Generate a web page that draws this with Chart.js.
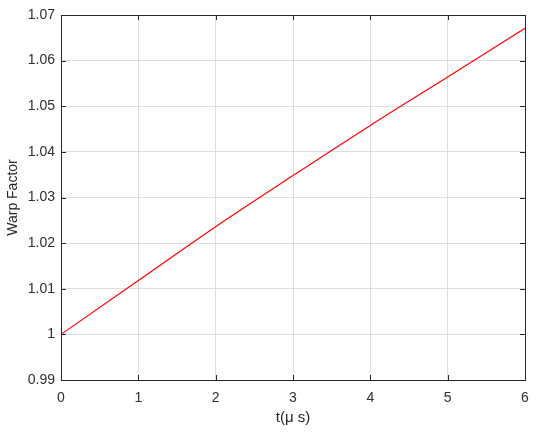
<!DOCTYPE html>
<html>
<head>
<meta charset="utf-8">
<style>
html,body{margin:0;padding:0;background:#fff;}
#wrap{width:550px;height:436px;position:relative;}
</style>
<script src="https://cdn.jsdelivr.net/npm/chart.js@4/dist/chart.umd.min.js"></script>
</head>
<body>
<div id="wrap"><canvas id="c" width="550" height="436"></canvas></div>
<script>
const timeUs = [0, 1, 2, 3, 4, 5, 6];
const warpFactor = [1.0, 1.0118, 1.0236, 1.0348, 1.0458, 1.0564, 1.0671];
const xTicks = [0, 1, 2, 3, 4, 5, 6];
const yTicks = [0.99, 1.0, 1.01, 1.02, 1.03, 1.04, 1.05, 1.06, 1.07];
const xTitle = 't(\u03BC s)';
const yTitle = 'Warp Factor';

const points = timeUs.map((t, i) => ({x: t, y: warpFactor[i]}));

const boxPlugin = {
  id: 'box',
  afterDraw(chart) {
    const {ctx, chartArea: a, scales} = chart;
    ctx.save();
    ctx.strokeStyle = '#262626';
    ctx.lineWidth = 1;
    const tl = 5;
    ctx.beginPath();
    xTicks.forEach(v => {
      const px = Math.round(scales.x.getPixelForValue(v)) + 0.5;
      ctx.moveTo(px, a.bottom); ctx.lineTo(px, a.bottom - tl);
      ctx.moveTo(px, a.top); ctx.lineTo(px, a.top + tl);
    });
    yTicks.forEach(v => {
      const py = Math.round(scales.y.getPixelForValue(v)) + 0.5;
      ctx.moveTo(a.left, py); ctx.lineTo(a.left + tl, py);
      ctx.moveTo(a.right, py); ctx.lineTo(a.right - tl, py);
    });
    ctx.stroke();
    ctx.strokeRect(Math.round(a.left) + 0.5, Math.round(a.top) + 0.5,
                   Math.round(a.right - a.left), Math.round(a.bottom - a.top));
    ctx.restore();
  }
};

new Chart(document.getElementById('c'), {
  type: 'scatter',
  data: {
    datasets: [{
      data: points,
      showLine: true,
      borderColor: '#ff0000',
      borderWidth: 1.2,
      pointRadius: 0,
      cubicInterpolationMode: 'monotone',
      fill: false
    }]
  },
  options: {
    responsive: false,
    animation: false,
    devicePixelRatio: 1,
    layout: {padding: {top: 15, right: 25, left: 0, bottom: 0}},
    plugins: {legend: {display: false}, tooltip: {enabled: false}},
    scales: {
      x: {
        type: 'linear',
        min: 0, max: 6,
        afterBuildTicks: s => { s.ticks = xTicks.map(v => ({value: v})); },
        afterFit: s => { s.height = 56; },
        grid: {color: '#dedede', lineWidth: 1, drawTicks: false},
        border: {display: false},
        ticks: {
          padding: 10,
          color: '#303030',
          font: {family: 'Liberation Sans', size: 14},
          maxRotation: 0,
          callback: v => String(v)
        },
        title: {
          display: true, text: xTitle, color: '#262626',
          font: {family: 'Liberation Sans', size: 15},
          padding: {top: 0, bottom: 9}
        }
      },
      y: {
        type: 'linear',
        min: 0.99, max: 1.07,
        afterBuildTicks: s => { s.ticks = yTicks.map(v => ({value: v})); },
        afterFit: s => { s.width = 61; },
        grid: {color: '#dedede', lineWidth: 1, drawTicks: false},
        border: {display: false},
        ticks: {
          padding: 6,
          color: '#303030',
          font: {family: 'Liberation Sans', size: 14},
          callback: v => String(Math.round(v * 100) / 100)
        },
        title: {
          display: true, text: yTitle, color: '#262626',
          font: {family: 'Liberation Sans', size: 14},
          padding: {top: 5, bottom: 0}
        }
      }
    }
  },
  plugins: [boxPlugin]
});
</script>
</body>
</html>
